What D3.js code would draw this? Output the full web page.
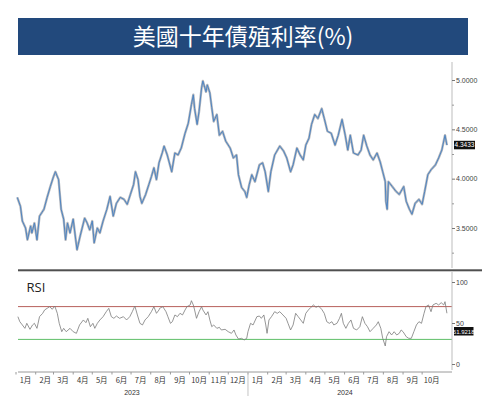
<!DOCTYPE html>
<html><head><meta charset="utf-8">
<script src="https://cdn.jsdelivr.net/npm/d3@7"></script>
<style>body{margin:0;background:#fff}svg{display:block}</style>
</head><body><svg id="c" width="482" height="396"></svg>
<script>
const title = "美國十年債殖利率(%)";
const yieldDates = ["2023-01-03","2023-01-08","2023-01-11","2023-01-16","2023-01-19","2023-01-24","2023-01-26","2023-01-30","2023-02-03","2023-02-07","2023-02-14","2023-02-19","2023-02-24","2023-03-01","2023-03-04","2023-03-09","2023-03-13","2023-03-17","2023-03-20","2023-03-23","2023-03-27","2023-04-01","2023-04-05","2023-04-07","2023-04-12","2023-04-19","2023-04-23","2023-04-27","2023-05-01","2023-05-04","2023-05-09","2023-05-13","2023-05-18","2023-05-24","2023-05-29","2023-06-03","2023-06-08","2023-06-14","2023-06-20","2023-06-25","2023-06-30","2023-07-05","2023-07-08","2023-07-12","2023-07-15","2023-07-18","2023-07-24","2023-07-29","2023-08-02","2023-08-06","2023-08-10","2023-08-14","2023-08-19","2023-08-22","2023-08-27","2023-09-03","2023-09-08","2023-09-13","2023-09-18","2023-09-24","2023-09-29","2023-10-04","2023-10-07","2023-10-09","2023-10-13","2023-10-16","2023-10-20","2023-10-22","2023-10-27","2023-10-29","2023-11-02","2023-11-05","2023-11-08","2023-11-13","2023-11-17","2023-11-22","2023-11-27","2023-12-04","2023-12-09","2023-12-14","2023-12-17","2023-12-22","2023-12-27","2023-12-30","2024-01-03","2024-01-07","2024-01-12","2024-01-19","2024-01-24","2024-01-28","2024-02-02","2024-02-06","2024-02-12","2024-02-20","2024-02-26","2024-03-02","2024-03-08","2024-03-12","2024-03-18","2024-03-23","2024-03-28","2024-04-01","2024-04-06","2024-04-10","2024-04-15","2024-04-20","2024-04-26","2024-04-30","2024-05-05","2024-05-11","2024-05-17","2024-05-22","2024-05-28","2024-06-02","2024-06-06","2024-06-10","2024-06-15","2024-06-22","2024-06-27","2024-07-01","2024-07-06","2024-07-11","2024-07-16","2024-07-22","2024-07-27","2024-07-31","2024-08-04","2024-08-05","2024-08-07","2024-08-09","2024-08-15","2024-08-21","2024-08-26","2024-09-02","2024-09-06","2024-09-11","2024-09-15","2024-09-20","2024-09-26","2024-10-01","2024-10-05","2024-10-10","2024-10-15","2024-10-22","2024-10-27","2024-11-01","2024-11-06","2024-11-09"];
const yieldValues = [3.81,3.72,3.57,3.50,3.38,3.52,3.45,3.55,3.38,3.62,3.69,3.81,3.92,4.02,4.07,3.99,3.69,3.59,3.38,3.55,3.45,3.59,3.38,3.28,3.42,3.60,3.55,3.48,3.57,3.35,3.50,3.45,3.57,3.69,3.82,3.62,3.75,3.81,3.79,3.74,3.84,3.94,4.07,3.99,3.82,3.75,3.84,3.94,4.02,4.11,3.99,4.16,4.26,4.33,4.24,4.07,4.26,4.24,4.31,4.46,4.56,4.75,4.85,4.71,4.55,4.68,4.92,4.99,4.88,4.95,4.87,4.72,4.58,4.65,4.44,4.48,4.38,4.31,4.21,4.24,4.04,3.91,3.87,3.81,3.94,4.04,3.97,4.14,4.16,4.07,3.87,4.07,4.24,4.33,4.28,4.21,4.07,4.14,4.31,4.24,4.19,4.34,4.41,4.55,4.65,4.61,4.71,4.61,4.48,4.46,4.34,4.44,4.60,4.44,4.29,4.44,4.26,4.24,4.29,4.44,4.33,4.24,4.19,4.26,4.17,4.07,3.97,3.77,3.69,3.97,3.92,3.87,3.84,3.92,3.77,3.69,3.64,3.75,3.79,3.74,3.87,4.04,4.09,4.14,4.21,4.29,4.44,4.34];
const rsiDates = ["2023-01-04","2023-01-07","2023-01-11","2023-01-15","2023-01-18","2023-01-23","2023-01-27","2023-01-30","2023-02-03","2023-02-07","2023-02-12","2023-02-15","2023-02-19","2023-02-23","2023-02-27","2023-03-03","2023-03-07","2023-03-10","2023-03-14","2023-03-17","2023-03-21","2023-03-27","2023-04-01","2023-04-06","2023-04-11","2023-04-17","2023-04-21","2023-04-24","2023-04-28","2023-05-02","2023-05-05","2023-05-09","2023-05-13","2023-05-18","2023-05-23","2023-05-27","2023-05-31","2023-06-04","2023-06-08","2023-06-13","2023-06-19","2023-06-24","2023-06-29","2023-07-03","2023-07-07","2023-07-11","2023-07-15","2023-07-19","2023-07-23","2023-07-28","2023-08-02","2023-08-06","2023-08-10","2023-08-14","2023-08-15","2023-08-20","2023-08-25","2023-08-28","2023-09-01","2023-09-04","2023-09-08","2023-09-12","2023-09-16","2023-09-20","2023-09-24","2023-09-27","2023-10-02","2023-10-04","2023-10-07","2023-10-09","2023-10-12","2023-10-16","2023-10-20","2023-10-22","2023-10-27","2023-10-30","2023-11-02","2023-11-05","2023-11-08","2023-11-13","2023-11-17","2023-11-20","2023-11-26","2023-12-01","2023-12-06","2023-12-10","2023-12-13","2023-12-17","2023-12-22","2023-12-26","2023-12-30","2024-01-01","2024-01-05","2024-01-09","2024-01-15","2024-01-19","2024-01-22","2024-01-26","2024-01-29","2024-01-31","2024-02-03","2024-02-07","2024-02-12","2024-02-16","2024-02-20","2024-02-25","2024-03-01","2024-03-04","2024-03-08","2024-03-12","2024-03-16","2024-03-20","2024-03-24","2024-03-28","2024-04-01","2024-04-05","2024-04-09","2024-04-13","2024-04-17","2024-04-21","2024-04-26","2024-04-30","2024-05-04","2024-05-08","2024-05-12","2024-05-15","2024-05-20","2024-05-24","2024-05-27","2024-05-30","2024-06-03","2024-06-07","2024-06-11","2024-06-15","2024-06-20","2024-06-25","2024-06-29","2024-07-03","2024-07-07","2024-07-11","2024-07-16","2024-07-21","2024-07-24","2024-07-28","2024-07-31","2024-08-04","2024-08-06","2024-08-10","2024-08-14","2024-08-18","2024-08-22","2024-08-26","2024-08-29","2024-09-01","2024-09-06","2024-09-10","2024-09-14","2024-09-18","2024-09-22","2024-09-26","2024-09-30","2024-10-04","2024-10-07","2024-10-11","2024-10-15","2024-10-18","2024-10-23","2024-10-27","2024-10-31","2024-11-04","2024-11-06","2024-11-09"];
const rsiValues = [57.7,51.6,47.6,43.5,49.6,42.3,47.6,49.6,43.5,57.7,61.8,65.9,67.9,69.9,66.7,70.7,61.8,49.6,39.4,43.5,39.4,43.5,39.4,37.4,47.6,53.7,50.4,55.7,45.5,49.6,43.5,49.6,53.7,57.7,63.8,67.9,57.7,55.7,58.5,55.7,57.7,53.7,57.7,63.8,70.7,59.8,49.6,47.6,53.7,57.7,63.8,69.9,61.8,65.9,67.9,69.9,63.8,57.7,49.6,51.6,59.8,57.7,61.8,59.8,65.9,69.9,72.0,77.2,72.0,65.9,55.7,63.8,69.9,65.9,59.8,63.8,53.7,45.5,47.6,43.5,44.7,41.5,42.3,39.4,37.4,41.5,35.4,30.5,31.3,29.3,31.3,39.4,49.6,47.6,57.7,58.5,55.7,59.8,47.6,37.4,53.7,57.7,63.8,61.8,63.8,59.8,55.7,49.6,41.5,47.6,61.8,57.7,53.7,49.6,61.8,65.9,69.1,72.0,69.1,70.7,66.7,61.8,51.6,49.6,51.6,47.6,49.6,55.7,61.8,49.6,43.5,49.6,53.7,43.5,41.5,45.5,57.7,49.6,45.5,39.4,43.5,47.6,51.6,43.5,31.3,22.0,33.3,39.4,35.4,39.4,35.4,37.4,41.5,39.4,33.3,31.3,31.3,39.4,47.6,51.6,49.6,61.8,69.9,72.0,63.8,72.0,74.0,72.0,74.8,72.0,76.0,61.9];
const yieldTicks = [3.5, 4.0, 4.5, 5.0];
const yieldMinorTicks = [3.25, 3.75, 4.25, 4.75];
const rsiTicks = [0, 50, 100];
const rsiBands = [70, 30];
const monthLabels = ["1月","2月","3月","4月","5月","6月","7月","8月","9月","10月","11月","12月","1月","2月","3月","4月","5月","6月","7月","8月","9月","10月"];
const yearLabels = ["2023","2024"];
const yearStarts = ["2023-01-01","2024-01-01"];
const lastYieldLabel = "4.3433";
const lastRsiLabel = "61.9218";

const parse = d3.timeParse("%Y-%m-%d");
const svg = d3.select("#c");
const font = "'Liberation Sans', Arial, sans-serif";
const cjk = "'Noto Sans CJK TC','Noto Sans CJK SC',sans-serif";

// title bar
svg.append("rect").attr("x",18).attr("y",18).attr("width",450).attr("height",37).attr("fill","#22497c");
svg.append("text").attr("x",243).attr("y",44.5).attr("text-anchor","middle")
  .attr("font-family",cjk).attr("font-size",23).attr("fill","#fff").text(title);

const x = d3.scaleTime().domain([new Date(2023,0,1), new Date(2024,10,17)]).range([16, 452]);
const y = d3.scaleLinear().domain([3.5, 5.0]).range([228, 80]);
const yr = d3.scaleLinear().domain([0, 100]).range([364, 282]);

// main series
const ySeries = yieldDates.map((d,i)=>({date:parse(d), v:yieldValues[i]}));
const line = d3.line().x(d=>x(d.date)).y(d=>y(d.v));
svg.append("path").datum(ySeries).attr("d",line).attr("fill","none")
  .attr("stroke","#9a9ea6").attr("stroke-width",2.4).attr("stroke-opacity",0.75).attr("stroke-linejoin","round");
svg.append("path").datum(ySeries).attr("d",line).attr("fill","none")
  .attr("stroke","#4f85c2").attr("stroke-width",1.0).attr("stroke-linejoin","round");

// right axis main
const axMain = svg.append("g").attr("transform","translate(452,0)");
axMain.append("line").attr("x1",0).attr("x2",0).attr("y1",62).attr("y2",268).attr("stroke","#bdbdbd");
const ax1 = d3.axisRight(y).tickValues(yieldTicks).tickFormat(d3.format(".4f")).tickSize(3).tickPadding(1);
const g1 = axMain.append("g").call(ax1);
g1.select(".domain").remove();
g1.selectAll("line").attr("stroke","#777");
g1.selectAll("text").attr("font-family",font).attr("font-size",7).attr("fill","#444");
const g1m = axMain.append("g").call(d3.axisRight(y).tickValues(yieldMinorTicks).tickFormat("").tickSize(2));
g1m.select(".domain").remove();
g1m.selectAll("line").attr("stroke","#999");

// last value label
const lastY = y(+lastYieldLabel);
svg.append("rect").attr("x",454).attr("y",lastY-4).attr("width",21).attr("height",8.5).attr("fill","#111");
svg.append("text").attr("x",464.5).attr("y",lastY+2.6).attr("text-anchor","middle")
  .attr("font-family",font).attr("font-size",6.5).attr("fill","#fff").text(lastYieldLabel);

// separator
svg.append("rect").attr("x",18).attr("y",269.3).attr("width",464).attr("height",2).attr("fill","#4f4f4f");

// RSI panel
svg.append("text").attr("x",26.5).attr("y",292).attr("font-family","'Open Sans', sans-serif")
  .attr("font-size",13).attr("fill","#222").text("RSI");
svg.selectAll(".band").data(rsiBands).enter().append("line")
  .attr("x1",18).attr("x2",452).attr("y1",d=>yr(d)).attr("y2",d=>yr(d))
  .attr("stroke",(d,i)=>i===0?"#b8615c":"#5fbf67").attr("stroke-width",1);
const rSeries = rsiDates.map((d,i)=>({date:parse(d), v:rsiValues[i]}));
svg.append("path").datum(rSeries)
  .attr("d", d3.line().x(d=>x(d.date)).y(d=>yr(d.v)))
  .attr("fill","none").attr("stroke","#7b7b7b").attr("stroke-width",0.8).attr("stroke-linejoin","round");

const axR = svg.append("g").attr("transform","translate(452,0)");
axR.append("line").attr("x1",0).attr("x2",0).attr("y1",272).attr("y2",370).attr("stroke","#bdbdbd");
const g2 = axR.append("g").call(d3.axisRight(yr).tickValues(rsiTicks).tickSize(3).tickPadding(1));
g2.select(".domain").remove();
g2.selectAll("line").attr("stroke","#777");
g2.selectAll("text").attr("font-family",font).attr("font-size",7).attr("fill","#444");

const lastR = 331;
svg.append("rect").attr("x",454).attr("y",lastR-4).attr("width",19.5).attr("height",8.5).attr("fill","#111");
svg.append("text").attr("x",463.7).attr("y",lastR+2.6).attr("text-anchor","middle")
  .attr("font-family",font).attr("font-size",6).attr("fill","#fff").text(lastRsiLabel);

// bottom time axis
const months = d3.timeMonth.range(new Date(2023,0,1), new Date(2024,10,1));
const gx = svg.append("g").attr("transform","translate(0,372)");
gx.append("line").attr("x1",18).attr("x2",452).attr("y1",0).attr("y2",0).attr("stroke","#9a9a9a");
gx.selectAll(".mt").data(months).enter().append("line")
  .attr("x1",d=>x(d)).attr("x2",d=>x(d)).attr("y1",0).attr("y2",2.5).attr("stroke","#9a9a9a");
gx.selectAll(".ml").data(months).enter().append("text")
  .attr("x",d=>x(d3.timeDay.offset(d,15))).attr("y",11).attr("text-anchor","middle")
  .attr("font-family",cjk).attr("font-size",7.5).attr("fill","#333").text((d,i)=>monthLabels[i]);
const ysep = x(parse(yearStarts[1]));
gx.append("line").attr("x1",ysep).attr("x2",ysep).attr("y1",0).attr("y2",24).attr("stroke","#c4c4c4");
const yearCenters = [(x(parse(yearStarts[0]))+ysep)/2, (ysep+442)/2];
gx.selectAll(".yl").data(yearLabels).enter().append("text")
  .attr("x",(d,i)=>yearCenters[i]).attr("y",22.5).attr("text-anchor","middle")
  .attr("font-family",font).attr("font-size",7).attr("fill","#333").text(d=>d);
</script></body></html>
